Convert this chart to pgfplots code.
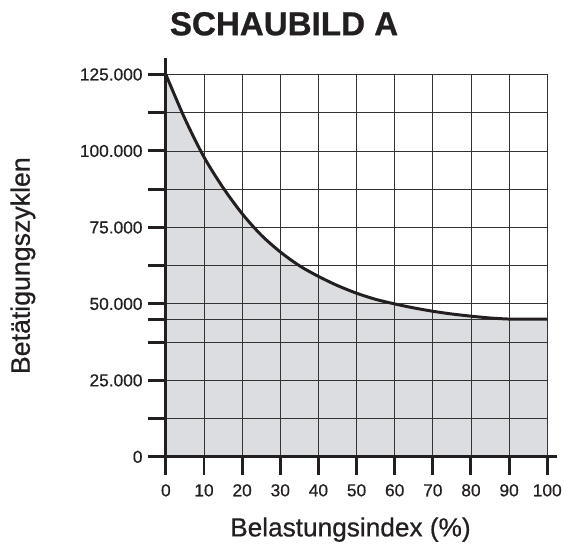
\documentclass[border=0pt]{standalone}
\usepackage{pgfplots}
\pgfplotsset{compat=1.18}
\usepackage{fontspec}
\setmainfont{Liberation Sans}
\newfontfamily\medfont{Liberation Sans}[FakeBold=0.6]
\newfontfamily\blackfont{Liberation Sans Bold}[FakeBold=0.8]
\definecolor{areagray}{RGB}{220,221,224}
\definecolor{ink}{RGB}{35,31,32}
\begin{document}
\begin{tikzpicture}
\begin{axis}[
  set layers,
  scale only axis,
  width=384bp, height=385bp,
  xmin=0, xmax=100, ymin=0, ymax=125000,
  axis lines=left,
  axis line style={-, ink, line width=3bp},
  clip=false,
  scaled y ticks=false,
  xtick={0,10,...,100},
  xticklabels={0,10,20,30,40,50,60,70,80,90,100},
  ytick={0,12500,25000,37500,45000,50000,62500,75000,87500,100000,112500,125000},
  yticklabels={0,,25.000,,,50.000,,75.000,,100.000,,125.000},
  /pgf/number format/assume math mode=true,
  grid=major,
  grid style={line width=0.9bp, black!80},
  tick align=outside,
  major tick length=18bp,
  tick style={line width=3bp, ink},
  xticklabel style={font=\medfont\fontsize{17.5}{17.5}\selectfont, text=ink, yshift=-6bp},
  yticklabel style={font=\medfont\fontsize{17.5}{17.5}\selectfont, text=ink, xshift=-2bp},
  xlabel={Belastungsindex (\%)},
  ylabel={Betätigungszyklen},
  xlabel style={font=\medfont\fontsize{26.5}{26.5}\selectfont, text=ink, at={(axis description cs:0.484,-0.208)}, anchor=base},
  ylabel style={font=\medfont\fontsize{27}{27}\selectfont, text=ink, at={(axis description cs:-0.375,0.5)}, anchor=center},
]
\addplot[on layer=axis background, fill=areagray, draw=none, smooth, tension=0.5] coordinates {
(0,125000) (5,110500) (10,98000) (15,88000) (20,79500) (25,72500) (30,67000) (35,62500) (40,59000) (45,56000) (50,53500) (55,51500) (60,50000) (65,48700) (70,47600) (75,46700) (80,46000) (85,45400) (90,45050) (95,45000) (100,45000)
} \closedcycle;
\addplot[ink, line width=3bp, smooth, tension=0.5] coordinates {
(0,125000) (5,110500) (10,98000) (15,88000) (20,79500) (25,72500) (30,67000) (35,62500) (40,59000) (45,56000) (50,53500) (55,51500) (60,50000) (65,48700) (70,47600) (75,46700) (80,46000) (85,45400) (90,45050) (95,45000) (100,45000)
};
\end{axis}
\draw[ink, line width=3bp] (0,-9bp) -- (0,402bp);
\draw[ink, line width=3bp] (-1.5bp,0) -- (394bp,0);
\node[font=\blackfont\fontsize{33.5}{33.5}\selectfont, text=ink] at (119bp,436bp) {SCHAUBILD A};
\useasboundingbox (-167bp,-84bp) rectangle (398bp,460bp);
\end{tikzpicture}
\end{document}
